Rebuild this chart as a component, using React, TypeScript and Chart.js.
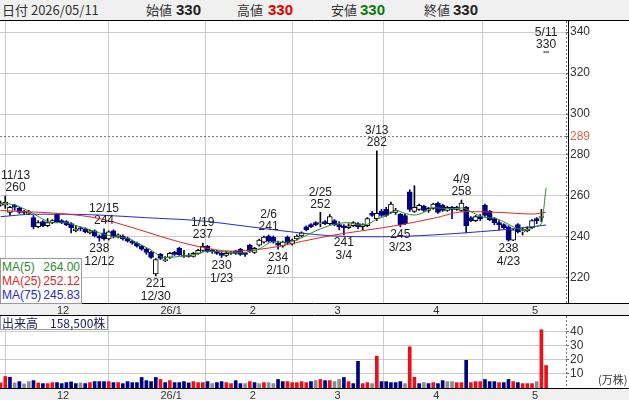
import React, { useEffect, useRef } from "react";
import { Chart, registerables } from "chart.js";

Chart.register(...registerables);

// ---------- data ----------
const dates = [
  "11/12","11/13","11/14","11/17","11/18","11/19","11/20","11/21","11/25","11/26","11/27","11/28",
  "12/1","12/2","12/3","12/4","12/5","12/8","12/9","12/10","12/11","12/12","12/15","12/16","12/17","12/18","12/19","12/22","12/23","12/24","12/25","12/26","12/29","12/30",
  "1/5","1/6","1/7","1/8","1/9","1/13","1/14","1/15","1/16","1/19","1/20","1/21","1/22","1/23","1/26","1/27","1/28","1/29","1/30",
  "2/2","2/3","2/4","2/5","2/6","2/9","2/10","2/12","2/13","2/16","2/17","2/18","2/19","2/20","2/24","2/25","2/26","2/27",
  "3/2","3/3","3/4","3/5","3/6","3/9","3/10","3/11","3/12","3/13","3/16","3/17","3/18","3/19","3/23","3/24","3/25","3/26","3/27","3/30","3/31",
  "4/1","4/2","4/3","4/6","4/7","4/8","4/9","4/10","4/13","4/14","4/15","4/16","4/17","4/20","4/21","4/22","4/23","4/24","4/27","4/28","4/30",
  "5/1","5/7","5/8","5/11",
];

const opens = [
  255.5,255.5,252,255.5,254,252.5,251.5,249.5,245,247.5,245.5,247,
  251,248,247.5,246.5,243,244.5,244,242,243,240.5,242,239,243,240,240.5,239.5,238,237,235.5,234,232.5,222,
  231.5,228.5,230,232.5,234.5,230.5,231,230.5,232,233.5,235.5,233.5,233,232,231,232,233,234,232,
  236,232.5,236,237.5,240.5,240,237,235.5,240,236.5,239,240.5,245,246,247,246.5,247.5,246.5,
  248,246,245.5,244.5,245.5,246.5,245,245.5,251.5,249,252.5,253.5,252,252,251,250.5,262,252.5,253.5,255,253,
  254,256.5,255.5,253,254.5,253.5,253,254.5,249.5,248,250,255.5,252.5,249,247,246,245,238.5,246,242.5,243,
  244.5,249,249.5,330,
];
const highs = [
  257.5,260,255,256,254.5,253,253,250.5,248,248,249,248.5,
  251.5,248.5,248,247,245.5,245,244.5,243.5,243.5,241,244,243,243.5,241.5,241,240,238.5,237.5,236,234.5,233,229.5,
  232,230.5,232.5,233,235,233.5,232,232.5,234,237,236,234,233.5,232.5,233,233,233.5,234.5,232.5,
  236.5,235,239,240.5,241,240.5,238,238,240.5,239,241,242.5,245.5,246.5,247.5,252,248,251,
  248.5,247.5,246,246.5,247.5,247,246.5,249.5,252.5,282,253.5,254.5,257,254,251.5,251,263,265,256,255.5,254.5,
  256.5,257,256,255,255,255,258,255,250,250.5,251,256,253,249.5,248,246.5,245.5,244,246.5,244.5,245,
  248.5,249.5,253.5,330,
];
const lows = [
  255,254,250.5,253,251.5,251,251,244,244.5,245,245,246.5,
  247,246.5,245.5,242,242.5,243,242,241.5,240,238,238.5,238.5,239.5,239.5,238.5,237.5,236.5,235,233.5,231.5,229.5,221,
  229,228,229.5,231,231,230,230.2,230.2,231.5,233,232.5,232,231.5,230,230.5,231.5,231.5,231,230.5,
  232.5,232,235.5,237,237.5,237,234,235,236.5,236,238.5,240,243,244.5,245.5,245,246,246,
  245.5,243.5,241,244,245,244,243.5,245,250,248,250,250,251.5,251,245,246,252.5,252,253,252.5,252,
  253.5,251.5,252.5,252.5,249,253,252.5,242,247.5,247.5,248,250,248,246,243.5,244,238,238.2,242,241,242.5,
  244,246.5,247.5,330,
];
const closes = [
  256.5,257,254.5,254.5,252,252,252,245,247,245.5,247,248,
  247.5,247,246,244.5,244,244,242.5,243,240.5,239.5,239,242.5,240,241,239,238,237,235.5,234,232.5,230,229,
  229.5,229,232,231.5,231.2,231,230.5,232,233.5,235.5,233,233,232,231,232,232.5,232,231.5,231.5,
  233,234.5,238.5,240,238,237.5,236,237.5,237,238.5,240.5,242,243.5,245,246,247,246.5,250,
  246,245,244.5,245.5,247,245,246,249,250.5,251.5,250.5,250.5,256,253,246,246.5,253.5,254.5,255.5,253,254,
  256,252,253,254.5,253.5,254.5,256.5,245.5,248,250,249,250.5,248.5,247,246,244.5,238.5,243.5,242.5,243,244,
  248,248,250,330,
];

// volume in 万株, and its direction versus the previous close (1 up, -1 down, 0 flat)
const volumes = [
  3.6,8.1,7.6,3.6,4.5,2.9,4.5,5.2,3.6,3.1,3.1,3.8,
  3.8,3.1,3.8,4.3,3.1,3.6,3.1,3.8,4.5,4.5,4.5,4.5,3.8,3.8,3.1,4.5,3.8,3.8,7.4,5.2,4.5,7.4,
  6.0,3.8,5.2,3.8,3.8,4.5,3.6,4.5,3.8,3.8,4.5,3.1,3.8,4.5,3.8,3.1,5.2,3.1,3.1,
  4.5,3.8,3.1,3.8,3.8,3.1,6.0,4.5,4.5,3.8,3.8,4.5,3.8,4.5,5.2,6.0,5.2,5.2,
  4.5,6.0,7.4,4.5,3.1,18.8,3.1,3.8,3.1,22.4,4.5,4.5,3.8,3.8,4.5,3.1,29,7.6,3.1,3.8,3.1,
  3.8,3.1,5.2,4.5,4.5,3.8,3.8,19.5,3.8,4.5,4.5,6.0,4.5,4.5,3.8,3.8,6.0,4.5,3.8,3.1,3.1,
  3.1,4.5,41,15.85,
];
const volDir = [
  1,1,-1,0,-1,0,0,-1,1,-1,1,1,
  -1,-1,-1,-1,-1,0,-1,1,-1,-1,-1,1,-1,1,-1,-1,-1,-1,-1,-1,-1,-1,
  1,-1,1,-1,-1,-1,-1,1,1,1,-1,0,-1,-1,1,1,-1,-1,0,
  1,-1,0,1,0,0,-1,-1,1,1,1,1,1,-1,0,1,-1,1,
  0,0,-1,1,-1,-1,1,1,0,1,-1,-1,-1,-1,-1,0,1,1,-1,0,-1,
  1,-1,-1,0,0,1,1,-1,1,1,1,-1,-1,-1,1,-1,-1,1,-1,1,1,
  1,0,1,1,
];

// moving-average lines (index, value)
const ma5X = [0,2,4,7,9,11,14,16,18,21,24,27,29,32,34,35,38,42,44,48,51,55,58,61,64,67,71,74,76,78,80,82,84,86,88,90,92,94,96,98,101,103,105,107,110,112,114,115,116];
const ma5Y = [256.5,256.1,254.8,251.4,248.7,247,246.9,245.6,244.2,242,240.2,239.3,237.1,233.7,230.5,230,230.5,231.8,233.1,232.7,232.3,234.2,237.7,237.4,239.6,243,246.2,247,245.9,246.2,248.7,250.3,253,251.5,250.7,252,254.3,254,253.9,254.2,251.2,249.5,249.2,247.4,244,243.5,245.3,246.6,264];
const ma25X = [0,7,14,21,28,34,38,42,49,57,64,71,78,85,92,99,106,113,116];
const ma25Y = [252.9,252.2,251.2,249,244.6,240.3,237.6,235.4,233.1,234.6,237.8,241,243.4,245.9,249.1,252.4,252,251.2,252.12];
const ma75X = [0,7,14,21,31,42,53,64,71,81,92,102,110,116];
const ma75Y = [249.9,251.1,251.1,250.7,249.4,248,245,241.9,240.5,240.1,241,242.6,244.2,245.83];
const maLegendValues = [264.0, 252.12, 245.83];

// labelled highs (H) and lows (L)
const markIdx = [1, 22, 21, 33, 43, 47, 57, 59, 68, 73, 80, 85, 98, 108, 116];
const markKind = ["H", "H", "L", "L", "H", "L", "H", "L", "H", "L", "H", "L", "H", "L", "H"];

// axes
const monthTickIdx = [12, 34, 53, 71, 92, 113];
const monthTickLabels = ["12", "26/1", "2", "3", "4", "5"];
const priceTicks = [220, 240, 260, 280, 300, 320, 340];
const refPrice = 289;
const volTicks = [10, 20, 30, 40];
const headerDate = "2026/05/11";

// ---------- view settings ----------
const X_MIN = -0.12;
const X_MAX = 120.23;
const PRICE_MIN = 207.8;
const PRICE_MAX = 345.37;
const VOL_MIN = 0;
const VOL_MAX = 50.7;

const NAVY = "#000080";
const GRID = "#cccccc";
const TEXT = "#333333";
const MA5_C = "#2e8b2e";
const MA25_C = "#e02828";
const MA75_C = "#2a2ac8";
const FONT = '"Liberation Sans", Arial, sans-serif';

function monthLabel(v: number) {
  const k = monthTickIdx.indexOf(Math.round(v));
  return k >= 0 ? monthTickLabels[k] : "";
}
function withCommas(n: number) {
  return String(n).replace(/\B(?=(\d{3})+(?!\d))/g, ",");
}
function zeroPad(s: any) {
  s.paddingTop = 0;
  s.paddingBottom = 0;
  s.paddingLeft = 0;
  s.paddingRight = 0;
}

function xScaleOptions() {
  return {
    type: "linear",
    min: X_MIN,
    max: X_MAX,
    offset: false,
    afterBuildTicks: (s: any) => {
      s.ticks = monthTickIdx.map((v) => ({ value: v }));
    },
    afterFit: (s: any) => {
      s.height = 12;
      zeroPad(s);
    },
    ticks: {
      autoSkip: false,
      maxRotation: 0,
      align: "start",
      padding: 1,
      color: TEXT,
      font: { size: 11, family: FONT },
      callback: (v: any) => monthLabel(Number(v)),
    },
    grid: { color: GRID, drawTicks: false, lineWidth: 1 },
    border: { display: false },
  };
}

const priceDecor = {
  id: "priceDecor",
  beforeDraw(chart: any) {
    const { ctx, chartArea: a, width } = chart;
    ctx.save();
    ctx.fillStyle = "#ffffff";
    ctx.fillRect(0, 0, width, a.bottom);
    ctx.restore();
  },
  afterDraw(chart: any) {
    const { ctx, chartArea: a, width, scales } = chart;
    const xs = scales.x;
    const ys = scales.y;
    ctx.save();
    const rx = Math.round(a.right) + 0.5;
    ctx.lineWidth = 1;
    ctx.strokeStyle = "#777";
    ctx.setLineDash([2, 2]);
    ctx.beginPath();
    ctx.moveTo(rx, a.top);
    ctx.lineTo(rx, a.bottom);
    ctx.stroke();
    ctx.setLineDash([]);
    ctx.strokeStyle = "#000";
    ctx.beginPath();
    ctx.moveTo(rx + 2, 0);
    ctx.lineTo(rx + 2, a.bottom);
    ctx.moveTo(0, 0.5);
    ctx.lineTo(width, 0.5);
    ctx.moveTo(0, Math.round(a.bottom) + 0.5);
    ctx.lineTo(width, Math.round(a.bottom) + 0.5);
    ctx.stroke();

    // high / low labels
    ctx.font = `12px ${FONT}`;
    ctx.fillStyle = "#222";
    ctx.textAlign = "center";
    ctx.textBaseline = "middle";
    markIdx.forEach((i, k) => {
      const isHigh = markKind[k] === "H";
      const val = isHigh ? highs[i] : lows[i];
      const px = xs.getPixelForValue(i);
      const py = ys.getPixelForValue(val);
      const lines = isHigh ? [dates[i], String(val)] : [String(val), dates[i]];
      const w = Math.max(...lines.map((l) => ctx.measureText(l).width));
      const left = Math.min(Math.max(px - w / 2, 1), a.right - w - 1);
      const cx = left + w / 2;
      if (isHigh) {
        ctx.fillText(lines[0], cx, py - 20);
        ctx.fillText(lines[1], cx, py - 8);
      } else {
        ctx.fillText(lines[0], cx, py + 8);
        ctx.fillText(lines[1], cx, py + 21);
      }
    });
    ctx.restore();
  },
};

const volDecor = {
  id: "volDecor",
  beforeDraw(chart: any) {
    const { ctx, chartArea: a, width } = chart;
    ctx.save();
    ctx.fillStyle = "#ffffff";
    ctx.fillRect(0, 0, width, a.bottom);
    ctx.restore();
  },
  afterDraw(chart: any) {
    const { ctx, chartArea: a, width } = chart;
    ctx.save();
    const rx = Math.round(a.right) + 0.5;
    ctx.lineWidth = 1;
    ctx.strokeStyle = "#777";
    ctx.setLineDash([2, 2]);
    ctx.beginPath();
    ctx.moveTo(rx, a.top);
    ctx.lineTo(rx, a.bottom);
    ctx.stroke();
    ctx.setLineDash([]);
    ctx.strokeStyle = "#000";
    ctx.beginPath();
    ctx.moveTo(0, 0.5);
    ctx.lineTo(width, 0.5);
    ctx.moveTo(0, Math.round(a.bottom) + 0.5);
    ctx.lineTo(width, Math.round(a.bottom) + 0.5);
    ctx.stroke();
    ctx.restore();
  },
};

export default function App() {
  const priceRef = useRef<HTMLCanvasElement | null>(null);
  const volRef = useRef<HTMLCanvasElement | null>(null);

  useEffect(() => {
    document.body.style.margin = "0";
    Chart.defaults.font.family = FONT;
    const idx = opens.map((_, i) => i);
    const up = idx.map((i) => closes[i] >= opens[i]);

    const line = (xs: number[], ys: number[], color: string) => ({
      type: "line",
      data: xs.map((x, k) => ({ x, y: ys[k] })),
      borderColor: color,
      borderWidth: 1,
      pointRadius: 0,
      cubicInterpolationMode: "monotone",
      order: 0,
    });

    const price = new Chart(priceRef.current as HTMLCanvasElement, {
      type: "bar",
      data: {
        datasets: [
          line(ma5X, ma5Y, MA5_C),
          line(ma25X, ma25Y, MA25_C),
          line(ma75X, ma75Y, MA75_C),
          {
            type: "bar",
            data: idx.map((i) => ({ x: i, y: [opens[i], closes[i]] })),
            backgroundColor: idx.map((i) => (up[i] ? "#ffffff" : NAVY)),
            borderColor: idx.map((i) => (up[i] ? "#000000" : NAVY)),
            borderWidth: 1,
            borderSkipped: false,
            barThickness: 5,
            minBarLength: 1,
            grouped: false,
            order: 1,
          },
          {
            type: "bar",
            data: idx.map((i) => ({ x: i, y: [lows[i], highs[i]] })),
            backgroundColor: idx.map((i) => (up[i] ? "#000000" : NAVY)),
            barThickness: 1,
            grouped: false,
            order: 2,
          },
          {
            type: "line",
            data: [
              { x: X_MIN, y: refPrice },
              { x: X_MAX, y: refPrice },
            ],
            borderColor: "#777",
            borderWidth: 1,
            borderDash: [2, 2],
            pointRadius: 0,
            order: 3,
          },
        ] as any,
      },
      options: {
        responsive: false,
        animation: false,
        events: [],
        layout: { padding: { top: 1, left: 0, right: 0, bottom: 0 } },
        plugins: { legend: { display: false }, tooltip: { enabled: false } },
        scales: {
          x: xScaleOptions() as any,
          y: {
            type: "linear",
            position: "right",
            min: PRICE_MIN,
            max: PRICE_MAX,
            afterBuildTicks: (s: any) => {
              s.ticks = [...priceTicks, refPrice].sort((a, b) => a - b).map((v) => ({ value: v }));
            },
            afterFit: (s: any) => {
              s.width = 63;
              zeroPad(s);
            },
            ticks: {
              autoSkip: false,
              padding: 1,
              font: { size: 12, family: FONT },
              color: (c: any) => (c.tick && c.tick.value === refPrice ? "#e8673a" : TEXT),
              callback: (v: any) => String(v),
            },
            grid: {
              color: (c: any) => (c.tick && c.tick.value === refPrice ? "rgba(0,0,0,0)" : GRID),
              tickColor: "#666",
              tickLength: 3,
            },
            border: { display: false },
          } as any,
        },
      },
      plugins: [priceDecor],
    } as any);

    const vol = new Chart(volRef.current as HTMLCanvasElement, {
      type: "bar",
      data: {
        datasets: [
          {
            data: idx.map((i) => ({ x: i, y: volumes[i] })),
            backgroundColor: idx.map((i) => (volDir[i] > 0 ? "#e8101a" : volDir[i] < 0 ? NAVY : "#8c8c8c")),
            barThickness: 3,
            grouped: false,
          },
        ] as any,
      },
      options: {
        responsive: false,
        animation: false,
        events: [],
        layout: { padding: { top: 1, left: 0, right: 0, bottom: 0 } },
        plugins: { legend: { display: false }, tooltip: { enabled: false } },
        scales: {
          x: xScaleOptions() as any,
          y: {
            type: "linear",
            position: "right",
            min: VOL_MIN,
            max: VOL_MAX,
            afterBuildTicks: (s: any) => {
              s.ticks = volTicks.map((v) => ({ value: v }));
            },
            afterFit: (s: any) => {
              s.width = 63;
              zeroPad(s);
            },
            ticks: {
              autoSkip: false,
              padding: 1,
              font: { size: 12, family: FONT },
              color: TEXT,
            },
            grid: { color: GRID, tickColor: "#666", tickLength: 3 },
            border: { display: false },
          } as any,
        },
      },
      plugins: [volDecor],
    } as any);

    return () => {
      price.destroy();
      vol.destroy();
    };
  }, []);

  const last = opens.length - 1;
  const hdr = { position: "absolute" as const, top: 0, lineHeight: "20px", whiteSpace: "nowrap" as const };
  const val = { ...hdr, fontFamily: FONT, fontWeight: 700, fontSize: 15 };
  const cjk = '"Noto Sans CJK JP", "Noto Sans", sans-serif';

  return (
    <div
      style={{
        position: "absolute",
        left: 0,
        top: 0,
        width: 629,
        height: 400,
        background: "#f0f0f0",
        overflow: "hidden",
        fontFamily: cjk,
        color: TEXT,
      }}
    >
      <div style={{ position: "absolute", left: 0, top: 0, width: 629, height: 20, fontSize: 13 }}>
        <span style={{ ...hdr, left: 2 }}>日付 {headerDate}</span>
        <span style={{ ...hdr, left: 146 }}>始値</span>
        <span style={{ ...val, left: 176, color: "#222" }}>{opens[last]}</span>
        <span style={{ ...hdr, left: 237 }}>高値</span>
        <span style={{ ...val, left: 268, color: "#e00000" }}>{highs[last]}</span>
        <span style={{ ...hdr, left: 331 }}>安値</span>
        <span style={{ ...val, left: 360, color: "#0a7a0a" }}>{lows[last]}</span>
        <span style={{ ...hdr, left: 424 }}>終値</span>
        <span style={{ ...val, left: 453, color: "#222" }}>{closes[last]}</span>
      </div>
      <canvas
        ref={priceRef}
        width={629}
        height={295}
        style={{ position: "absolute", left: 0, top: 20, width: 629, height: 295 }}
      />
      <canvas
        ref={volRef}
        width={629}
        height={85}
        style={{ position: "absolute", left: 0, top: 315, width: 629, height: 85 }}
      />
      <div
        style={{
          position: "absolute",
          left: 0,
          top: 258,
          width: 79,
          height: 43,
          border: "1px solid #9a9a9a",
          background: "#fff",
          fontFamily: FONT,
          fontSize: 12,
          lineHeight: "14px",
          padding: "1px 0 0 1px",
        }}
      >
        {[
          ["MA(5)", MA5_C],
          ["MA(25)", MA25_C],
          ["MA(75)", MA75_C],
        ].map(([name, color], k) => (
          <div key={name} style={{ display: "flex", justifyContent: "space-between", color, paddingRight: 1 }}>
            <span>{name}</span>
            <span>{maLegendValues[k].toFixed(2)}</span>
          </div>
        ))}
      </div>
      <div
        style={{
          position: "absolute",
          left: 0,
          top: 316,
          height: 13,
          border: "1px solid #9a9a9a",
          borderTop: "none",
          background: "#fff",
          fontSize: 12,
          lineHeight: "13px",
          padding: "0 2px 0 1px",
          color: "#1c1c5a",
          whiteSpace: "nowrap",
        }}
      >
        出来高　{withCommas(Math.round(volumes[last] * 10000))}株
      </div>
      <div
        style={{
          position: "absolute",
          left: 598,
          top: 372,
          fontSize: 11,
          lineHeight: "14px",
          color: TEXT,
          whiteSpace: "nowrap",
        }}
      >
        (万株)
      </div>
    </div>
  );
}
